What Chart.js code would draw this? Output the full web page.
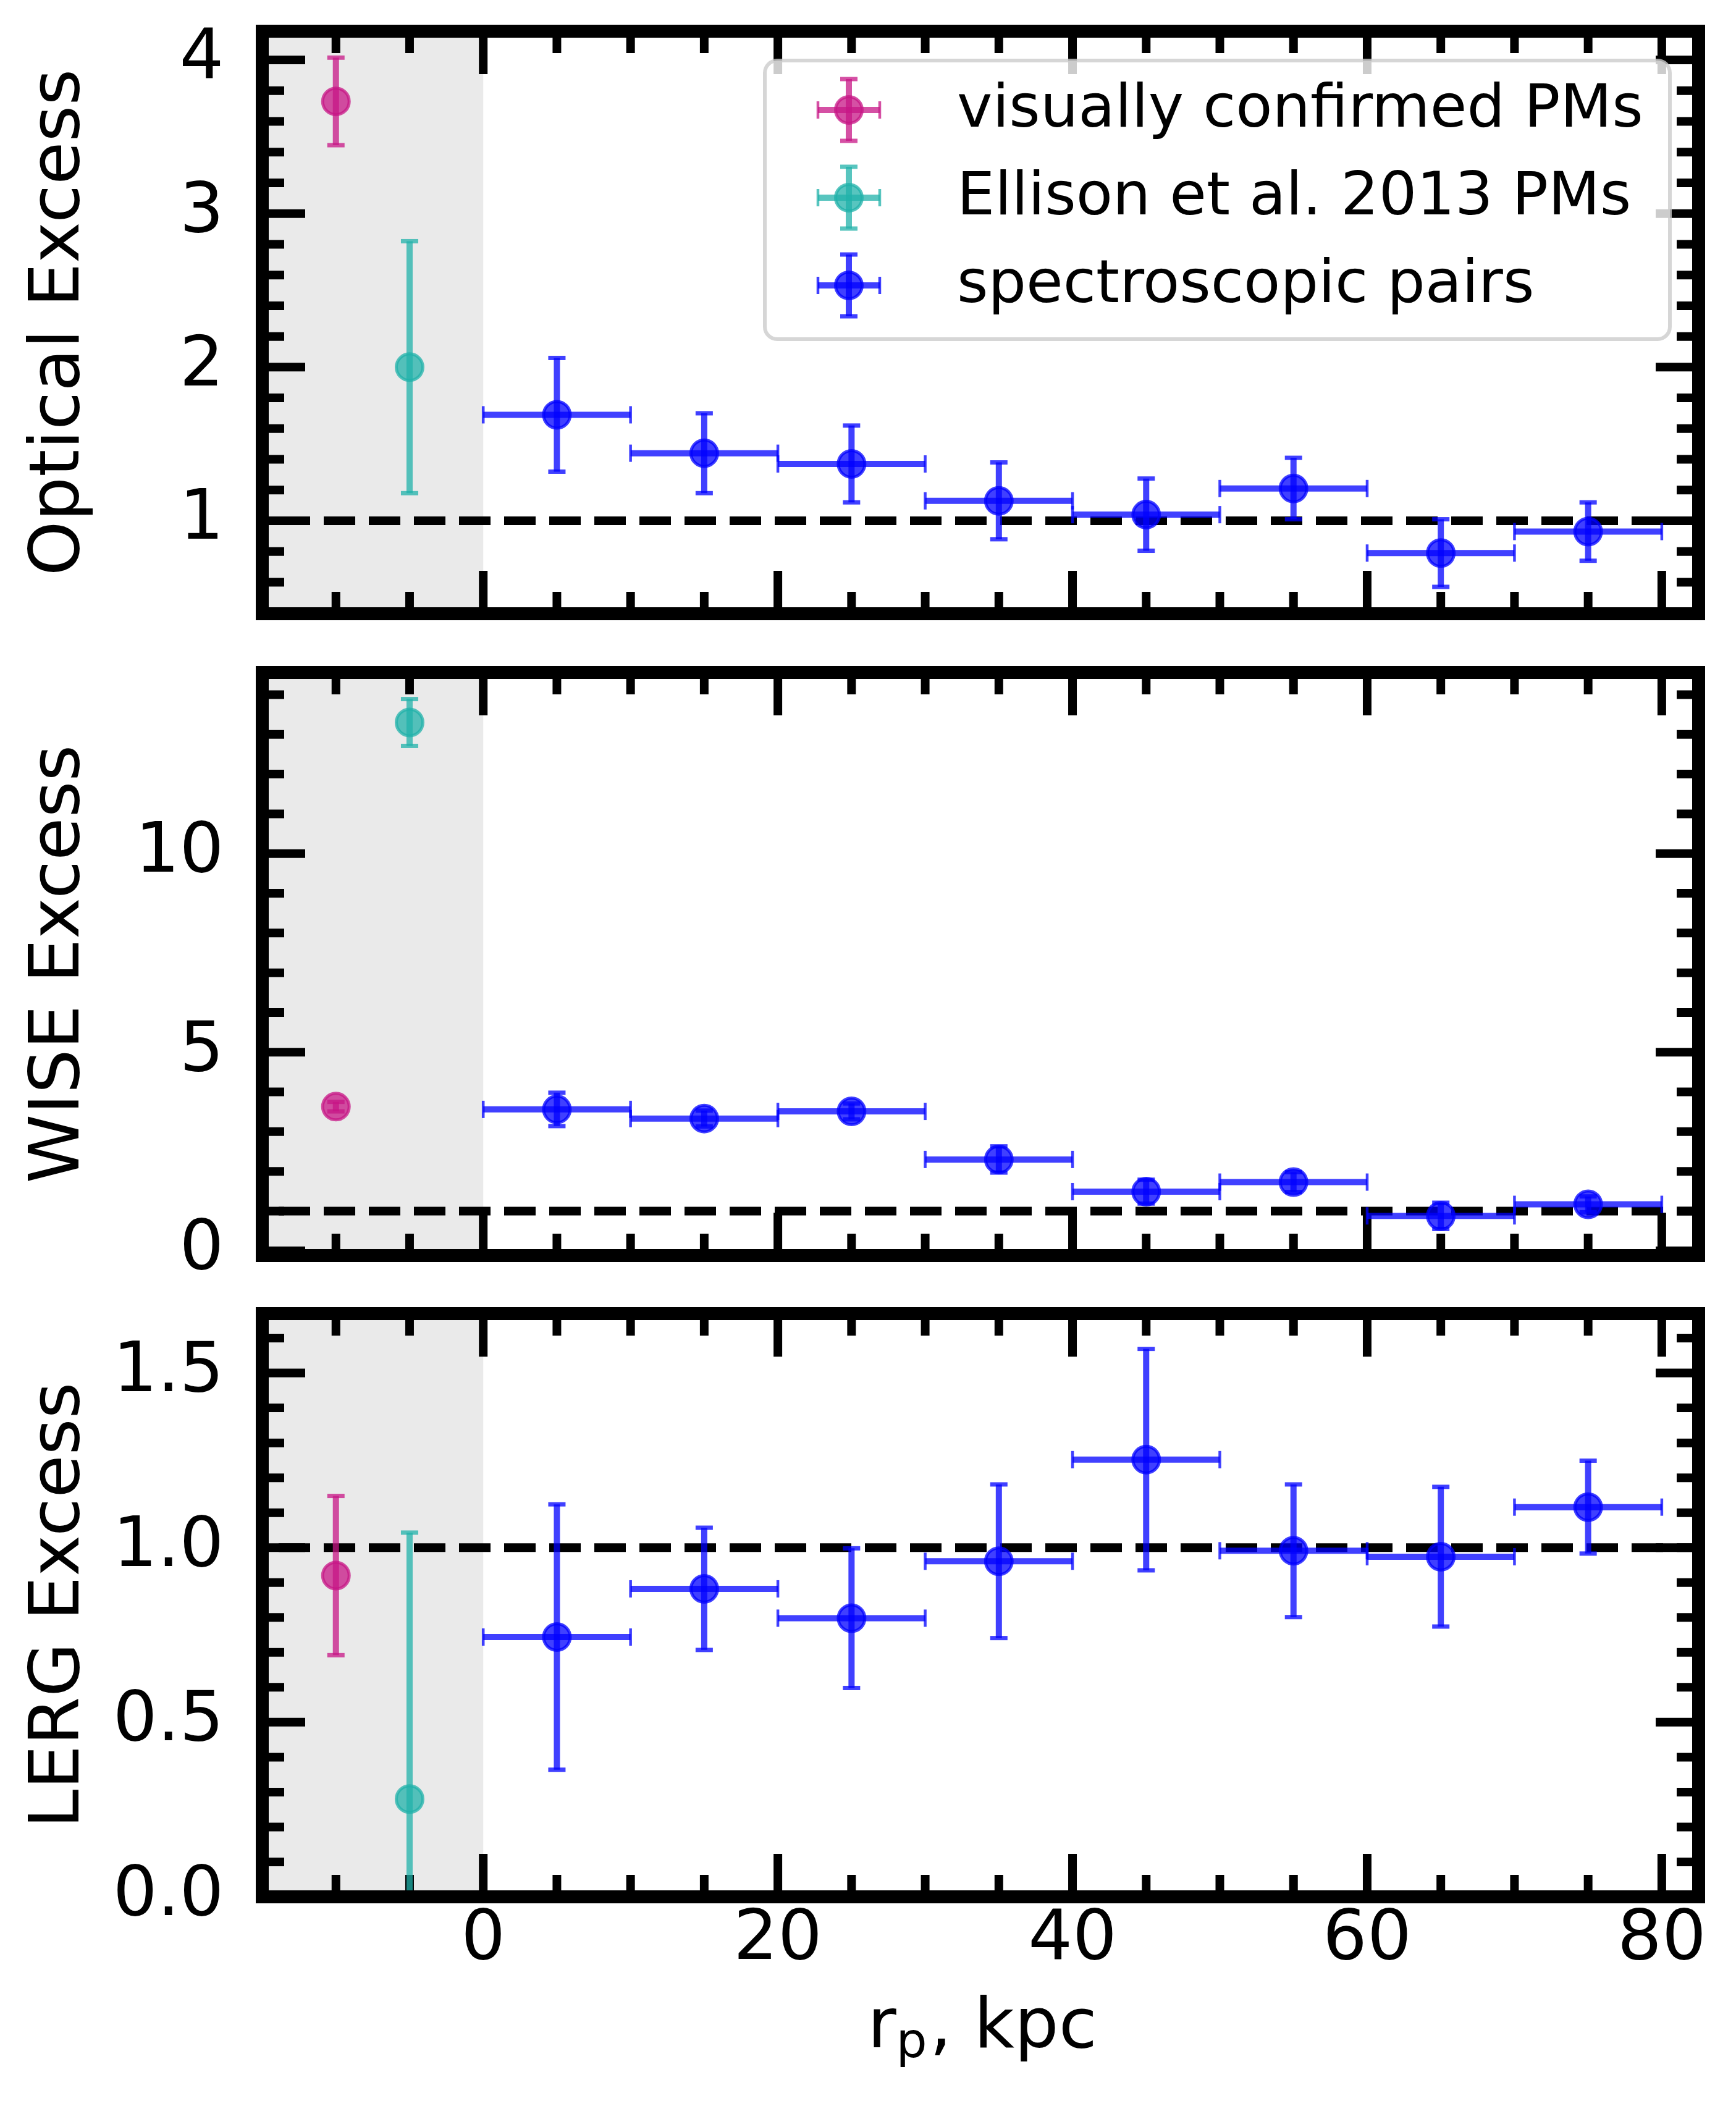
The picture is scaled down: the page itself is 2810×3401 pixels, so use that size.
<!DOCTYPE html>
<html>
<head>
<meta charset="utf-8">
<script src="https://cdn.jsdelivr.net/npm/chart.js@4.4.1/dist/chart.umd.min.js"></script>
<style>
  html, body { margin: 0; padding: 0; background: #fff; }
  #wrap { position: relative; width: 2810px; height: 3401px; }
  canvas { position: absolute; left: 0; }
</style>
</head>
<body>
<div id="wrap">
  <canvas id="optical" width="2810" height="1040" style="top:0px"></canvas>
  <canvas id="wise" width="2810" height="1040" style="top:1040px"></canvas>
  <canvas id="lerg" width="2810" height="1321" style="top:2080px"></canvas>
</div>
<script>
const seriesNames = ["visually confirmed PMs", "Ellison et al. 2013 PMs", "spectroscopic pairs"];

// projected separation, kpc
const pmX = [-10];
const ellisonX = [-5];
const pairX = [5, 15, 25, 35, 45, 55, 65, 75];
const pairXErr = [5, 5, 5, 5, 5, 5, 5, 5];

// optical excess
const opticalPM = [3.73];
const opticalPMErr = [0.285];
const opticalEllison = [2.0];
const opticalEllisonErr = [0.82];
const opticalPairs = [1.69, 1.44, 1.37, 1.13, 1.04, 1.21, 0.79, 0.93];
const opticalPairsErr = [0.37, 0.26, 0.25, 0.25, 0.235, 0.2, 0.22, 0.19];

// WISE excess
const wisePM = [3.63];
const wisePMErr = [0.12];
const wiseEllison = [13.3];
const wiseEllisonErr = [0.59];
const wisePairs = [3.56, 3.33, 3.51, 2.3, 1.49, 1.73, 0.88, 1.17];
const wisePairsErr = [0.42, 0.2, 0.2, 0.33, 0.3, 0.25, 0.33, 0.2];

// LERG excess
const lergPM = [0.92];
const lergPMErr = [0.228];
const lergEllison = [0.28];
const lergEllisonErr = [0.763];
const lergPairs = [0.744, 0.882, 0.798, 0.961, 1.252, 0.991, 0.974, 1.116];
const lergPairsErr = [0.38, 0.175, 0.2, 0.22, 0.317, 0.19, 0.2, 0.133];

// tick labels
const xTickLabels = [0, 20, 40, 60, 80];
const opticalTickLabels = [1, 2, 3, 4];
const wiseTickLabels = [0, 5, 10];
const lergTickLabels = [0.0, 0.5, 1.0, 1.5];

const refLevel = 1;
const shadeEnd = 0;

const colors = ["rgba(199,21,133,0.75)", "rgba(32,178,170,0.75)", "rgba(0,0,255,0.75)"];
const FONT = "DejaVu Sans";
Chart.defaults.font.family = FONT;
Chart.defaults.color = "#000";

function isTick(v, list) {
  return list.some(t => Math.abs(t - v) < 1e-6);
}

function drawErr(ctx, color, px, py, xLo, xHi, yLo, yHi) {
  ctx.strokeStyle = color;
  ctx.fillStyle = color;
  ctx.lineWidth = 10;
  ctx.lineCap = "butt";
  ctx.setLineDash([]);
  if (yLo !== yHi) {
    ctx.beginPath(); ctx.moveTo(px, yLo); ctx.lineTo(px, yHi); ctx.stroke();
    ctx.fillRect(px - 14, yLo - 3.5, 28, 7);
    ctx.fillRect(px - 14, yHi - 3.5, 28, 7);
  }
  if (xLo !== xHi) {
    ctx.beginPath(); ctx.moveTo(xLo, py); ctx.lineTo(xHi, py); ctx.stroke();
    ctx.fillRect(xLo - 2.25, py - 14, 4.5, 28);
    ctx.fillRect(xHi - 2.25, py - 14, 4.5, 28);
  }
}

function drawMarker(ctx, color, px, py) {
  ctx.beginPath();
  ctx.arc(px, py, 21.5, 0, Math.PI * 2);
  ctx.fillStyle = color;
  ctx.fill();
  ctx.lineWidth = 5;
  ctx.strokeStyle = color;
  ctx.stroke();
}

function roundRect(ctx, x, y, w, h, r) {
  ctx.beginPath();
  ctx.moveTo(x + r, y);
  ctx.arcTo(x + w, y, x + w, y + h, r);
  ctx.arcTo(x + w, y + h, x, y + h, r);
  ctx.arcTo(x, y + h, x, y, r);
  ctx.arcTo(x, y, x + w, y, r);
  ctx.closePath();
}

function decorPlugin(cfg) {
  return {
    id: "decor",
    beforeDatasetsDraw(chart) {
      const { ctx, chartArea: a, scales: { x, y } } = chart;
      ctx.save();
      ctx.beginPath();
      ctx.rect(a.left, a.top, a.right - a.left, a.bottom - a.top);
      ctx.clip();

      // grey band for the merger samples
      const sx0 = x.getPixelForValue(x.min), sx1 = x.getPixelForValue(shadeEnd);
      ctx.fillStyle = "#eaeaea";
      ctx.fillRect(sx0, a.top, sx1 - sx0, a.bottom - a.top);

      // inward ticks on all four sides
      ctx.strokeStyle = "#000";
      ctx.lineWidth = 14;
      x.ticks.forEach(t => {
        const px = x.getPixelForValue(t.value);
        const len = isTick(t.value, xTickLabels) ? 69.5 : 35.5;
        ctx.beginPath();
        ctx.moveTo(px, a.bottom); ctx.lineTo(px, a.bottom - len);
        ctx.moveTo(px, a.top); ctx.lineTo(px, a.top + len);
        ctx.stroke();
      });
      y.ticks.forEach(t => {
        const py = y.getPixelForValue(t.value);
        const len = isTick(t.value, cfg.yLabels) ? 69.5 : 35.5;
        ctx.beginPath();
        ctx.moveTo(a.left, py); ctx.lineTo(a.left + len, py);
        ctx.moveTo(a.right, py); ctx.lineTo(a.right - len, py);
        ctx.stroke();
      });

      // reference level
      const ry = y.getPixelForValue(refLevel);
      ctx.setLineDash([51, 22]);
      ctx.lineDashOffset = 46.5;
      ctx.beginPath();
      ctx.moveTo(a.left, ry); ctx.lineTo(a.right, ry);
      ctx.stroke();
      ctx.setLineDash([]);

      // error bars
      chart.data.datasets.forEach((ds, di) => {
        ds.data.forEach(p => {
          const px = x.getPixelForValue(p.x), py = y.getPixelForValue(p.y);
          const xLo = x.getPixelForValue(p.x - p.xErr), xHi = x.getPixelForValue(p.x + p.xErr);
          const yLo = y.getPixelForValue(p.y - p.yErr), yHi = y.getPixelForValue(p.y + p.yErr);
          drawErr(ctx, colors[di], px, py, xLo, xHi, yLo, yHi);
        });
      });
      ctx.restore();
    },
    afterDatasetsDraw(chart) {
      const { ctx, chartArea: a } = chart;
      ctx.save();
      if (cfg.legend) {
        const w = 1465, h = 451;
        const bx = a.right - 46.5 - w, by = a.top + 47.5;
        roundRect(ctx, bx, by, w, h, 20);
        ctx.fillStyle = "rgba(255,255,255,0.8)";
        ctx.fill();
        ctx.lineWidth = 6;
        ctx.strokeStyle = "rgba(204,204,204,0.8)";
        ctx.stroke();
        chart.data.datasets.forEach((ds, i) => {
          const hx = bx + 136, hy = by + 80 + i * 142;
          drawErr(ctx, colors[i], hx, hy, hx - 50, hx + 50, hy - 50, hy + 50);
          drawMarker(ctx, colors[i], hx, hy);
          ctx.fillStyle = "#000";
          ctx.font = "97px '" + FONT + "'";
          ctx.textAlign = "left";
          ctx.textBaseline = "middle";
          ctx.fillText(ds.label, bx + 311, hy + 2);
        });
      }
      // frame
      ctx.strokeStyle = "#000";
      ctx.lineWidth = 21;
      ctx.lineJoin = "miter";
      ctx.strokeRect(a.left, a.top, a.right - a.left, a.bottom - a.top);
      ctx.restore();
    },
    afterDraw(chart) {
      if (!cfg.xTitle) return;
      const { ctx, scales: { x } } = chart;
      const cx = (x.left + x.right) / 2 + 3;
      const base = 1234.3;
      ctx.save();
      ctx.fillStyle = "#000";
      ctx.textBaseline = "alphabetic";
      ctx.textAlign = "left";
      const big = "113px '" + FONT + "'", small = "79px '" + FONT + "'";
      ctx.font = big; const w1 = ctx.measureText("r").width, w3 = ctx.measureText(", kpc").width;
      ctx.font = small; const w2 = ctx.measureText("p").width + 4;
      let tx = cx - (w1 + w2 + w3) / 2;
      ctx.font = big; ctx.fillText("r", tx, base); tx += w1;
      ctx.font = small; ctx.fillText("p", tx, base + 16); tx += w2;
      ctx.font = big; ctx.fillText(", kpc", tx, base);
      ctx.restore();
    }
  };
}

function buildPanel(cfg) {
  const datasets = [
    { label: seriesNames[0], data: pmX.map((x, i) => ({ x, y: cfg.pm[i], xErr: 0, yErr: cfg.pmErr[i] })) },
    { label: seriesNames[1], data: ellisonX.map((x, i) => ({ x, y: cfg.ellison[i], xErr: 0, yErr: cfg.ellisonErr[i] })) },
    { label: seriesNames[2], data: pairX.map((x, i) => ({ x, y: cfg.pairs[i], xErr: pairXErr[i], yErr: cfg.pairsErr[i] })) }
  ].map((ds, i) => Object.assign(ds, {
    backgroundColor: colors[i],
    borderColor: colors[i],
    pointBackgroundColor: colors[i],
    pointBorderColor: colors[i],
    pointRadius: 21.5,
    pointHoverRadius: 21.5,
    pointBorderWidth: 5,
    pointHoverBorderWidth: 5
  }));

  const tickFont = { family: FONT, size: 113, lineHeight: 1.2 };

  return new Chart(document.getElementById(cfg.id), {
    type: "scatter",
    data: { datasets },
    options: {
      responsive: false,
      animation: false,
      devicePixelRatio: 1,
      events: [],
      layout: { padding: { top: cfg.top, right: 60.5, bottom: 0, left: 0 } },
      plugins: { legend: { display: false }, tooltip: { enabled: false } },
      scales: {
        x: {
          type: "linear",
          min: -15,
          max: 82.5,
          grid: { display: false, drawTicks: false, tickLength: 0 },
          border: { display: false },
          ticks: {
            display: cfg.xTitle,
            stepSize: 5,
            autoSkip: false,
            includeBounds: false,
            maxRotation: 0,
            padding: 3,
            color: "#000",
            font: tickFont,
            callback: v => isTick(v, xTickLabels) ? String(v) : ""
          },
          afterFit: s => { s.height = cfg.xHeight; s.paddingLeft = 0; s.paddingRight = 0; }
        },
        y: {
          type: "linear",
          min: cfg.yMin,
          max: cfg.yMax,
          grid: { display: false, drawTicks: false, tickLength: 0 },
          border: { display: false },
          ticks: {
            stepSize: cfg.yStep,
            autoSkip: false,
            includeBounds: false,
            padding: 62,
            color: "#000",
            font: tickFont,
            callback: v => isTick(v, cfg.yLabels) ? v.toFixed(cfg.decimals) : ""
          },
          title: {
            display: true,
            text: cfg.title,
            color: "#000",
            font: tickFont,
            padding: { top: 30, bottom: 0 }
          },
          afterFit: s => { s.width = 424.5; s.paddingTop = 0; s.paddingBottom = 0; }
        }
      }
    },
    plugins: [decorPlugin(cfg)]
  });
}

buildPanel({
  id: "optical", title: "Optical Excess", top: 50.5, xHeight: 46.5,
  yMin: 0.395, yMax: 4.187, yStep: 0.2, yLabels: opticalTickLabels, decimals: 0,
  pm: opticalPM, pmErr: opticalPMErr, ellison: opticalEllison, ellisonErr: opticalEllisonErr,
  pairs: opticalPairs, pairsErr: opticalPairsErr, legend: true, xTitle: false
});
buildPanel({
  id: "wise", title: "WISE Excess", top: 48.5, xHeight: 47.5,
  yMin: -0.12, yMax: 14.56, yStep: 1, yLabels: wiseTickLabels, decimals: 0,
  pm: wisePM, pmErr: wisePMErr, ellison: wiseEllison, ellisonErr: wiseEllisonErr,
  pairs: wisePairs, pairsErr: wisePairsErr, legend: false, xTitle: false
});
buildPanel({
  id: "lerg", title: "LERG Excess", top: 46.5, xHeight: 330.5,
  yMin: 0, yMax: 1.67, yStep: 0.1, yLabels: lergTickLabels, decimals: 1,
  pm: lergPM, pmErr: lergPMErr, ellison: lergEllison, ellisonErr: lergEllisonErr,
  pairs: lergPairs, pairsErr: lergPairsErr, legend: false, xTitle: true
});
</script>
</body>
</html>
